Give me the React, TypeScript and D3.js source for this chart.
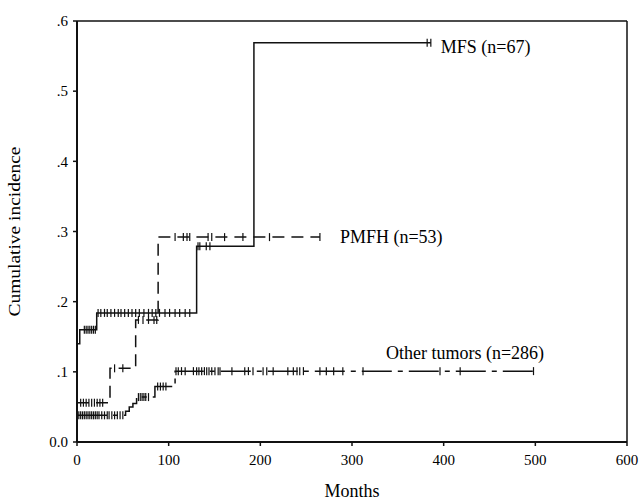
import React from 'react'
import { scaleLinear, line, curveStepAfter } from 'd3'

// step points [month, cumulative incidence]
const mfsSteps: [number, number][] = [[0, 0.14], [3, 0.16], [21.5, 0.184], [130.5, 0.279], [193, 0.569]]
const mfsEnd = 386
const mfsCensor = [8, 10, 12, 14, 16, 18, 20, 23, 26, 30, 33, 37, 41, 45, 48, 52, 56, 60, 64, 68, 73, 78, 82, 86, 90, 96, 101, 107, 112, 118, 123, 132, 134, 141, 145, 382, 386]

const pmfhSteps: [number, number][] = [[0, 0.056], [36, 0.105], [64, 0.174], [88.5, 0.292]]
const pmfhEnd = 265
const pmfhCensor = [4, 7, 10, 13, 16, 19, 22, 25, 28, 41, 50, 67, 72, 78, 84, 87, 107, 116, 120, 123, 143, 147, 161, 181, 210, 265]

const otherSteps: [number, number][] = [[0, 0.038], [53, 0.044], [57, 0.05], [61, 0.055], [65, 0.064], [85, 0.079], [107, 0.101]]
const otherEnd = 500
const otherCensor = [2, 4, 6, 8, 10, 12, 14, 16, 18, 20, 22, 24, 27, 30, 33, 35, 38, 41, 44, 47, 50, 67, 69, 71, 73, 75, 78, 88, 91, 94, 97, 108, 110.5, 114, 118, 127, 130.5, 133, 136, 139, 141.5, 144, 147, 150.5, 154, 156, 169, 183, 187, 192, 203, 207, 214, 230, 236, 240, 243, 247, 265, 272, 280, 290, 312, 396, 418, 498]

const seriesNames = ['MFS (n=67)', 'PMFH (n=53)', 'Other tumors (n=286)']
const xTicks = [0, 100, 200, 300, 400, 500, 600]
const yTicks = [0, 0.1, 0.2, 0.3, 0.4, 0.5, 0.6]
const yTickLabels = ['0.0', '.1', '.2', '.3', '.4', '.5', '.6']

const x = scaleLinear().domain([0, 600]).range([77, 627])
const y = scaleLinear().domain([0, 0.6]).range([442, 21])

const valueAt = (steps: [number, number][], t: number) => {
  let v = steps[0][1]
  for (const s of steps) if (s[0] <= t) v = s[1]
  return v
}

const stepLine = line<[number, number]>()
  .x(d => x(d[0]))
  .y(d => y(d[1]))
  .curve(curveStepAfter)

const font = '"Liberation Serif", "Times New Roman", serif'

const App = () => {
  const series = [
    { steps: mfsSteps, end: mfsEnd, censor: mfsCensor, dash: undefined },
    { steps: pmfhSteps, end: pmfhEnd, censor: pmfhCensor, dash: '12,7' },
    { steps: otherSteps, end: otherEnd, censor: otherCensor, dash: '30,6,5,6' },
  ]
  return (
    <svg width={639} height={500} style={{ position: 'absolute', left: 0, top: 0, background: '#fff' }} fontFamily={font}>
      {/* frame */}
      <line x1={x(0)} x2={x(600)} y1={y(0.6)} y2={y(0.6)} stroke='#111' strokeWidth={1.5} />
      <line x1={x(600)} x2={x(600)} y1={y(0.6)} y2={y(0)} stroke='#111' strokeWidth={1.5} />
      <line x1={x(0)} x2={x(600)} y1={y(0)} y2={y(0)} stroke='#111' strokeWidth={2} />
      <line x1={x(0)} x2={x(0)} y1={y(0.6)} y2={y(0)} stroke='#111' strokeWidth={2} />

      {yTicks.map((t, i) => (
        <g key={t}>
          <line x1={x(0) - 4} x2={x(0)} y1={y(t)} y2={y(t)} stroke='#111' strokeWidth={1.5} />
          <text x={68} y={y(t)} dy='0.35em' textAnchor='end' fontSize={15}>{yTickLabels[i]}</text>
        </g>
      ))}
      {xTicks.map(t => (
        <g key={t}>
          <line x1={x(t)} x2={x(t)} y1={y(0)} y2={y(0) + 4} stroke='#111' strokeWidth={1.5} />
          <text x={x(t)} y={465} textAnchor='middle' fontSize={15}>{t}</text>
        </g>
      ))}

      <text x={x(300)} y={497} textAnchor='middle' fontSize={18}>Months</text>
      <text transform={`translate(20,${y(0.3)}) rotate(-90)`} textAnchor='middle' fontSize={16} textLength={170} lengthAdjust='spacingAndGlyphs'>Cumulative incidence</text>

      {series.map((s, i) => (
        <g key={i}>
          <path d={stepLine([...s.steps, [s.end, s.steps[s.steps.length - 1][1]]]) || ''} fill='none' stroke='#111' strokeWidth={1.5} strokeDasharray={s.dash} />
          {s.censor.map((c, j) => (
            <line key={j} x1={x(c)} x2={x(c)} y1={y(valueAt(s.steps, c)) - 4} y2={y(valueAt(s.steps, c)) + 4} stroke='#111' strokeWidth={1.2} />
          ))}
        </g>
      ))}

      <text x={x(mfsEnd) + 10} y={y(0.569) + 10} fontSize={18}>{seriesNames[0]}</text>
      <text x={x(pmfhEnd) + 20} y={y(0.292) + 6} fontSize={18}>{seriesNames[1]}</text>
      <text x={x(337)} y={y(0.101) - 12} fontSize={18}>{seriesNames[2]}</text>
    </svg>
  )
}

export default App
